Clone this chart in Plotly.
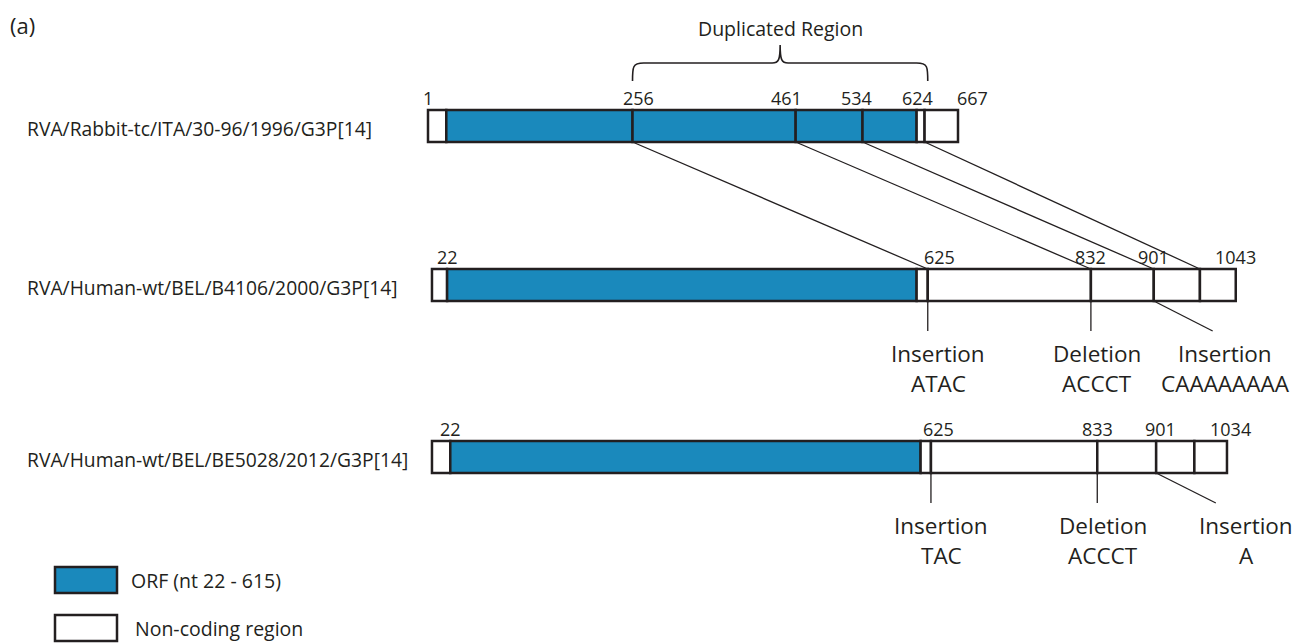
import plotly.graph_objects as go

# ---------------- data ----------------
track_names = [
    "RVA/Rabbit-tc/ITA/30-96/1996/G3P[14]",
    "RVA/Human-wt/BEL/B4106/2000/G3P[14]",
    "RVA/Human-wt/BEL/BE5028/2012/G3P[14]",
]
# segment boundaries on a schematic nucleotide scale (as drawn)
rabbit_bounds = [1, 24, 258, 463, 547, 615, 625, 667]
human1_bounds = [6, 25, 615, 629, 834, 913, 971, 1016]
human2_bounds = [6, 29, 620, 633, 842, 916, 964, 1005]
# 1 = ORF (coding), 0 = non-coding, per segment
rabbit_coding = [0, 1, 1, 1, 1, 0, 0]
human1_coding = [0, 1, 0, 0, 0, 0, 0]
human2_coding = [0, 1, 0, 0, 0, 0, 0]

# position labels above each bar
rabbit_labels = ["1", "256", "461", "534", "624", "667"]
rabbit_label_pos = [1, 265, 452, 539, 616, 685]
human1_labels = ["22", "625", "832", "901", "1043"]
human1_label_pos = [25, 644, 834, 913, 1016]
human2_labels = ["22", "625", "833", "901", "1034"]
human2_label_pos = [29, 642, 842, 921, 1009]

# duplicated region links: (rabbit boundary index, human1 boundary index)
dup_links = [(2, 3), (3, 4), (4, 5), (6, 6)]
dup_region = [258, 629]
dup_label = "Duplicated Region"

# indels below human bars
human1_events = [("Insertion", "ATAC"), ("Deletion", "ACCCT"), ("Insertion", "CAAAAAAAA")]
human1_event_anchor = [3, 4, 5]
human1_event_end = [629, 834, 987]
human1_event_text = [642, 842, 1003]
human2_events = [("Insertion", "TAC"), ("Deletion", "ACCCT"), ("Insertion", "A")]
human2_event_anchor = [3, 4, 5]
human2_event_end = [633, 842, 991]
human2_event_text = [646, 849, 1029]

legend_items = [("ORF (nt 22 - 615)", 1), ("Non-coding region", 0)]
panel_label = "(a)"

# ---------------- styles / layout ----------------
BLUE = "#1a89bc"
DARK = "#231f20"
FONT = "Open Sans"
W, H = 1309, 643
OFF = 8                      # page body margin of the html
FW, FH = W - OFF, H - OFF    # figure size
track_y = [126, 285, 457]
half_h = 16


def px(p):
    """page-pixel x -> paper fraction"""
    return (p - OFF) / FW


fig = go.Figure()
shapes = []
annotations = []

tracks = [
    (rabbit_bounds, rabbit_coding, rabbit_labels, rabbit_label_pos),
    (human1_bounds, human1_coding, human1_labels, human1_label_pos),
    (human2_bounds, human2_coding, human2_labels, human2_label_pos),
]

for ti, (bounds, coding, labels, lpos) in enumerate(tracks):
    yc = track_y[ti]
    for si in range(len(bounds) - 1):
        shapes.append(dict(type="rect", xref="x", yref="y",
                           x0=bounds[si], x1=bounds[si + 1],
                           y0=yc - half_h, y1=yc + half_h,
                           fillcolor=BLUE if coding[si] else "white",
                           line=dict(color=DARK, width=2.5), layer="above"))
    for lab, p in zip(labels, lpos):
        annotations.append(dict(x=p, y=yc - half_h - 12, xref="x", yref="y",
                                text=lab, showarrow=False,
                                font=dict(family=FONT, size=18, color=DARK),
                                xanchor="center", yanchor="middle"))
    annotations.append(dict(x=px(25), y=yc + 2, xref="paper", yref="y",
                            text=track_names[ti], showarrow=False,
                            font=dict(family=FONT, size=19.3, color=DARK),
                            xanchor="left", yanchor="middle"))

# links between rabbit and human1
for a, b in dup_links:
    shapes.append(dict(type="line", xref="x", yref="y",
                       x0=rabbit_bounds[a], y0=track_y[0] + half_h,
                       x1=human1_bounds[b], y1=track_y[1] - half_h,
                       line=dict(color=DARK, width=1.3), layer="below"))

# bracket for duplicated region
x0, x1 = dup_region
xm = (x0 + x1) / 2
yb, yh, yt = 81, 63, 45
path = (f"M {x0},{yb} C {x0},{yh+4} {x0},{yh} {x0+14},{yh} "
        f"L {xm-10},{yh} C {xm-2},{yh} {xm},{yh-3} {xm},{yt} "
        f"C {xm},{yh-3} {xm+2},{yh} {xm+10},{yh} "
        f"L {x1-14},{yh} C {x1},{yh} {x1},{yh+4} {x1},{yb}")
shapes.append(dict(type="path", xref="x", yref="y", path=path,
                   line=dict(color=DARK, width=1.6)))
annotations.append(dict(x=xm, y=28, xref="x", yref="y", text=dup_label,
                        showarrow=False, font=dict(family=FONT, size=19.5, color=DARK),
                        xanchor="center", yanchor="middle"))

# indel events
for ti, bounds, events, anchors, ends, txs in [
    (1, human1_bounds, human1_events, human1_event_anchor, human1_event_end, human1_event_text),
    (2, human2_bounds, human2_events, human2_event_anchor, human2_event_end, human2_event_text),
]:
    yb0 = track_y[ti] + half_h
    for (l1, l2), a, e, tx in zip(events, anchors, ends, txs):
        shapes.append(dict(type="line", xref="x", yref="y",
                           x0=bounds[a], y0=yb0, x1=e, y1=yb0 + 30,
                           line=dict(color=DARK, width=1.3)))
        for k, t in enumerate([l1, l2]):
            annotations.append(dict(x=tx, y=yb0 + 52 + 30 * k, xref="x", yref="y",
                                    text=t, showarrow=False,
                                    font=dict(family=FONT, size=22.5, color=DARK),
                                    xanchor="center", yanchor="middle"))

# legend
for i, (lab, cod) in enumerate(legend_items):
    y0 = 567 + 48 * i
    shapes.append(dict(type="rect", xref="paper", yref="y",
                       x0=px(55), x1=px(117), y0=y0, y1=y0 + 26,
                       fillcolor=BLUE if cod else "white",
                       line=dict(color=DARK, width=2.5)))
    annotations.append(dict(x=px(129 + 4 * i), y=y0 + 13, xref="paper", yref="y",
                            text=lab, showarrow=False,
                            font=dict(family=FONT, size=19.5, color=DARK),
                            xanchor="left", yanchor="middle"))

annotations.append(dict(x=0, y=OFF, xref="paper", yref="y", text=panel_label,
                        showarrow=False, font=dict(family=FONT, size=22, color=DARK),
                        xanchor="left", yanchor="top"))

# x axis in schematic nucleotide units: nt 1 at page x 428, 0.7958 px per nt
px_per_nt = 0.7958
xr = [1 + (OFF - 428) / px_per_nt, 1 + (W - 428) / px_per_nt]

fig.update_layout(
    width=FW, height=FH,
    margin=dict(l=0, r=0, t=0, b=0),
    plot_bgcolor="white", paper_bgcolor="white",
    shapes=shapes, annotations=annotations,
    xaxis=dict(range=xr, visible=False, fixedrange=True),
    yaxis=dict(range=[H, OFF], visible=False, fixedrange=True),
    showlegend=False,
)
fig.write_html("out.html")
